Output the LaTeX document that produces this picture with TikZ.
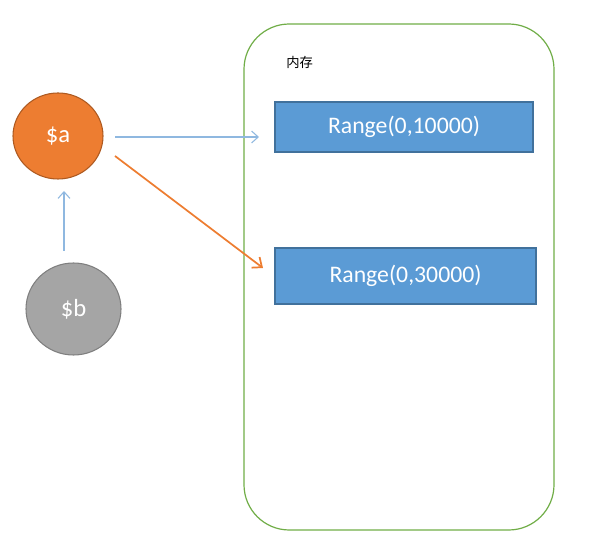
\documentclass[tikz,border=0pt]{standalone}
\usepackage{fontspec}
\setmainfont{Carlito}
\newfontfamily\cjk{Noto Sans CJK SC}
\usetikzlibrary{arrows.meta,shapes.geometric}
\definecolor{orangeF}{HTML}{ED7D31}
\definecolor{orangeD}{HTML}{AE5A21}
\definecolor{grayF}{HTML}{A5A5A5}
\definecolor{grayD}{HTML}{7F7F7F}
\definecolor{blueF}{HTML}{5B9BD5}
\definecolor{blueD}{HTML}{41719C}
\definecolor{blueL}{HTML}{8FB8E0}
\definecolor{greenC}{HTML}{70AD47}
\tikzset{
  var/.style={ellipse, draw=#1D, fill=#1F, line width=0.8pt, text=white, font=\fontsize{18.5}{22}\selectfont, inner sep=0pt},
  memblock/.style={draw=blueD, fill=blueF, line width=0.8pt, text=white, font=\fontsize{17.8}{21}\selectfont, inner sep=0pt},
  thinarrow/.style={draw=blueL, line width=0.8pt, -{Straight Barb[length=5pt,width=9pt]}},
  thickarrow/.style={draw=orangeF, line width=1.3pt, -{Straight Barb[length=6pt,width=10pt]}}
}
\begin{document}
\begin{tikzpicture}[x=0.75pt,y=-0.75pt]
\useasboundingbox (0,0) rectangle (589,559);
\node[draw=greenC, line width=0.9pt, rounded corners=34pt, minimum width=310*0.75pt, minimum height=506*0.75pt] (mem) at (399,277) {};
\node[font=\cjk\fontsize{10}{12}\selectfont, anchor=west, inner sep=0pt] (label) at (286,62) {内存};
\node[var=orange, minimum width=90*0.75pt, minimum height=86*0.75pt] (a) at (58,136) {\$a};
\node[var=gray, minimum width=95*0.75pt, minimum height=92*0.75pt] (b) at (73.5,309) {\$b};
\node[memblock, minimum width=258*0.75pt, minimum height=50*0.75pt] (r1) at (404,127) {Range(0,10000)};
\node[memblock, minimum width=261*0.75pt, minimum height=56*0.75pt] (r2) at (405.5,276) {Range(0,30000)};
\coordinate (bs) at (64,251);
\coordinate (ae) at (64,191);
\coordinate (a1s) at (115,137);
\coordinate (a1e) at (259,137);
\coordinate (a2s) at (115,156);
\coordinate (a2e) at (263,268);
\draw[thinarrow] (bs) -- (ae);
\draw[thinarrow] (a1s) -- (a1e);
\draw[thickarrow] (a2s) -- (a2e);
\end{tikzpicture}
\end{document}
